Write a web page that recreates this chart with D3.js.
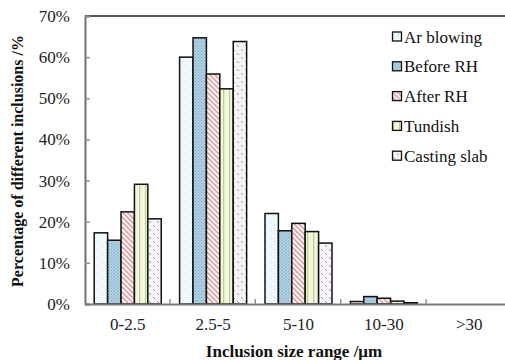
<!DOCTYPE html>
<html>
<head>
<meta charset="utf-8">
<script src="https://cdn.jsdelivr.net/npm/d3@7"></script>
<style>
  body { margin: 0; background: #fff; }
  svg text { font-family: "Liberation Serif", "Times New Roman", serif; }
</style>
</head>
<body>
<div id="chart"></div>
<script>
const width = 505, height = 360
const margin = { top: 16, right: -7, bottom: 56, left: 85 }
const serif = '"Liberation Serif", "Times New Roman", serif'

const categories = ['0-2.5', '2.5-5', '5-10', '10-30', '>30']
const seriesNames = ['Ar blowing', 'Before RH', 'After RH', 'Tundish', 'Casting slab']
const arBlowing = [17.3, 60.0, 22.0, 0.6, 0]
const beforeRH = [15.5, 64.7, 17.8, 1.8, 0]
const afterRH = [22.4, 55.9, 19.6, 1.4, 0]
const tundish = [29.1, 52.3, 17.6, 0.7, 0]
const castingSlab = [20.7, 63.8, 14.8, 0.3, 0]
const yTicks = [0, 10, 20, 30, 40, 50, 60, 70]

const seriesValues = [arBlowing, beforeRH, afterRH, tundish, castingSlab]

const svg = d3.select('#chart')
  .append('svg')
    .attr('width', width)
    .attr('height', height)

// hatch patterns, one per series
const defs = svg.append('defs')

function pattern(id, size, bg) {
  const p = defs.append('pattern')
    .attr('id', id)
    .attr('patternUnits', 'userSpaceOnUse')
    .attr('width', size)
    .attr('height', size)
  p.append('rect').attr('width', size).attr('height', size).attr('fill', bg)
  return p
}

let p = pattern('pAr', 8, '#f1f8fb')
p.append('rect').attr('x', 2).attr('y', 1).attr('width', 1).attr('height', 1).attr('fill', '#c4d3da')
p.append('rect').attr('x', 6).attr('y', 5).attr('width', 1).attr('height', 1).attr('fill', '#c4d3da')

p = pattern('pBefore', 3, '#b2d3e6')
p.append('rect').attr('x', 0).attr('y', 0).attr('width', 1).attr('height', 1).attr('fill', '#7ea6bf')
p.append('rect').attr('x', 1.5).attr('y', 1.5).attr('width', 1).attr('height', 1).attr('fill', '#7ea6bf')

p = pattern('pAfter', 5, '#fbf3f3')
p.append('path').attr('d', 'M-1,-1 L6,6 M-1,4 L1,6 M4,-1 L6,1')
  .attr('stroke', '#d99a9a').attr('stroke-width', 1.4)

p = pattern('pTundish', 6, '#f4f7df')
p.append('rect').attr('x', 1).attr('y', 0).attr('width', 1.3).attr('height', 6).attr('fill', '#b9d38f')

p = pattern('pCasting', 8, '#f8f2f9')
p.append('path').attr('d', 'M1,1 L3,3 M5,5 L7,7')
  .attr('stroke', '#9a9aa6').attr('stroke-width', 1)

const fills = ['url(#pAr)', 'url(#pBefore)', 'url(#pAfter)', 'url(#pTundish)', 'url(#pCasting)']

const x0 = d3.scaleBand()
  .domain(categories)
  .range([margin.left, width - margin.right])
  .paddingInner(0.215)
  .paddingOuter(0.108)

const x1 = d3.scaleBand()
  .domain(seriesNames)
  .range([0, x0.bandwidth()])

const y = d3.scaleLinear()
  .domain([0, 70])
  .range([height - margin.bottom, margin.top])

// bars
svg.append('g')
  .selectAll('g')
  .data(seriesNames)
  .join('g')
    .attr('fill', (d, i) => fills[i])
  .selectAll('rect')
  .data((d, i) => categories.map((c, j) => ({ cat: c, s: d, v: seriesValues[i][j] })))
  .join('rect')
    .attr('x', d => x0(d.cat) + x1(d.s))
    .attr('y', d => y(d.v))
    .attr('width', x1.bandwidth())
    .attr('height', d => y(0) - y(d.v))
    .attr('stroke', '#111')
    .attr('stroke-width', 1.5)

// frame top
svg.append('line')
  .attr('x1', margin.left).attr('x2', width - margin.right)
  .attr('y1', margin.top).attr('y2', margin.top)
  .attr('stroke', '#222').attr('stroke-width', 1.5)

// y axis, ticks pointing inward
const yAxis = svg.append('g')
  .attr('transform', `translate(${margin.left},0)`)
  .call(d3.axisRight(y).tickValues(yTicks).tickSize(5).tickFormat(d => d + '%'))
yAxis.attr('font-family', serif).attr('font-size', 17)
yAxis.select('.domain').attr('stroke', '#707070').attr('stroke-width', 2)
yAxis.selectAll('.tick line').attr('stroke', '#909090').attr('stroke-width', 1.5)
yAxis.selectAll('.tick text')
  .attr('x', -15)
  .attr('text-anchor', 'end')
  .attr('fill', '#222')

// x axis with category separators
const xAxis = svg.append('g')
  .attr('transform', `translate(0,${y(0)})`)
  .call(d3.axisBottom(x0).tickSize(0).tickPadding(14))
xAxis.attr('font-family', serif).attr('font-size', 17)
xAxis.select('.domain').attr('stroke', '#7a7a7a').attr('stroke-width', 2)
xAxis.selectAll('.tick text')
  .attr('fill', '#222')

const step = x0.step()
svg.append('g')
  .selectAll('line')
  .data(categories.slice(1))
  .join('line')
    .attr('x1', d => x0(d) - x0.paddingInner() * step / 2 - 0.5)
    .attr('x2', d => x0(d) - x0.paddingInner() * step / 2 - 0.5)
    .attr('y1', y(0))
    .attr('y2', y(0) - 5)
    .attr('stroke', '#909090')
    .attr('stroke-width', 1.5)

// axis titles
svg.append('text')
  .attr('transform', `translate(23,${(y(0) + y(70)) / 2 + 1}) rotate(-90)`)
  .attr('text-anchor', 'middle')
  .attr('font-family', serif)
  .style('font-size', '16px')
  .style('font-weight', 'bold')
  .attr('fill', '#111')
  .text('Percentage of different inclusions /%')

svg.append('text')
  .attr('x', 294)
  .attr('y', 357)
  .attr('text-anchor', 'middle')
  .attr('font-family', serif)
  .style('font-size', '17px')
  .style('font-weight', 'bold')
  .attr('fill', '#111')
  .text('Inclusion size range /μm')

// legend
const legend = svg.append('g')
  .selectAll('g')
  .data(seriesNames)
  .join('g')
    .attr('transform', (d, i) => `translate(392,${37 + i * 29.8})`)
legend.append('rect')
  .attr('x', 0.5).attr('y', -5)
  .attr('width', 9).attr('height', 9)
  .attr('fill', (d, i) => fills[i])
  .attr('stroke', '#111')
  .attr('stroke-width', 1.3)
legend.append('text')
  .attr('x', 12)
  .attr('y', 5.5)
  .attr('font-family', serif)
  .style('font-size', '17px')
  .attr('fill', '#111')
  .text(d => d)
</script>
</body>
</html>
